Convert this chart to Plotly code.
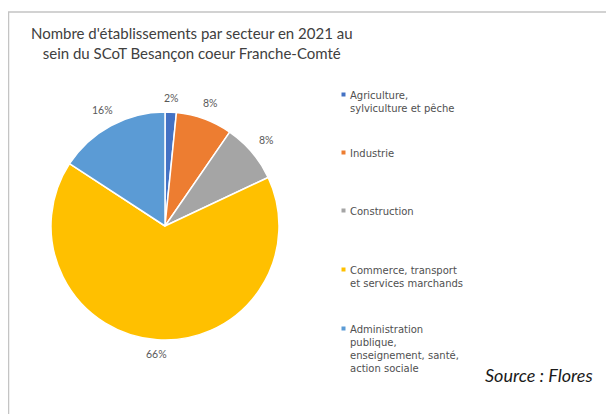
import math
import plotly.graph_objects as go

# ---- data ----
categories = [
    "Agriculture, sylviculture et pêche",
    "Industrie",
    "Construction",
    "Commerce, transport et services marchands",
    "Administration publique, enseignement, santé, action sociale",
]
legend_lines = [
    ["Agriculture,", "sylviculture et pêche"],
    ["Industrie"],
    ["Construction"],
    ["Commerce, transport", "et services marchands"],
    ["Administration", "publique,", "enseignement, santé,", "action sociale"],
]
values = [1.6, 8.0, 8.4, 66.2, 15.8]
colors = ["#4472C4", "#ED7D31", "#A5A5A5", "#FFC000", "#5B9BD5"]

title_text = "Nombre d'établissements par secteur en 2021 au<br>sein du SCoT Besançon coeur Franche-Comté"
source_text = "Source : Flores"

# ---- layout helpers (page has an 8px body margin) ----
W, H = 614, 414
OFF = 8
def px(x):
    return (x - OFF) / W
def py(y):
    return 1 - (y - OFF) / H

# pie geometry in page pixels
CX, CY, R = 165, 226, 114
legend_y = [94, 152, 210, 269, 328]

total = sum(values)

fig = go.Figure()
fig.add_trace(go.Pie(
    labels=categories,
    values=values,
    sort=False,
    direction="clockwise",
    rotation=0,
    marker=dict(colors=colors, line=dict(color="white", width=1.5)),
    textinfo="none",
    domain=dict(x=[px(CX - R), px(CX + R)], y=[py(CY + R), py(CY - R)]),
    showlegend=False,
    hoverinfo="label+percent",
))

annotations = [
    dict(text=title_text, x=px(192), y=py(22), xref="paper", yref="paper",
         xanchor="center", yanchor="top", showarrow=False, align="center",
         font=dict(family="Lato", size=15, color="#404040")),
    dict(text="<i>" + source_text + "</i>", x=px(483), y=py(375), xref="paper", yref="paper",
         xanchor="left", yanchor="middle", showarrow=False,
         font=dict(family="Lato", size=18, color="#1a1a1a")),
]

# outside percentage labels placed like Excel's (box edge a fixed gap from the pie)
cum = 0.0
for v in values:
    theta = 2 * math.pi * (cum + v / 2) / total
    cum += v
    s, c = math.sin(theta), math.cos(theta)
    d = R + 8 + abs(s) * 10 + abs(c) * 6
    annotations.append(dict(
        text=f"{v / total:.0%}", x=px(CX + d * s), y=py(CY - d * c),
        xref="paper", yref="paper", xanchor="center", yanchor="middle",
        showarrow=False, font=dict(family="Lato", size=10.5, color="#595959")))

shapes = [
    dict(type="rect", xref="paper", yref="paper", x0=px(8.5), x1=px(640), y0=py(440), y1=py(12),
         line=dict(color="#c4c4c4", width=1.5), fillcolor="rgba(0,0,0,0)", layer="below"),
]
for lines, col, ly in zip(legend_lines, colors, legend_y):
    annotations.append(dict(
        text="<br>".join(lines), x=px(348), y=py(ly - 6), xref="paper", yref="paper",
        xanchor="left", yanchor="top", showarrow=False, align="left",
        font=dict(family="DejaVu Sans", size=10, color="#505050")))
    shapes.append(dict(type="rect", xref="paper", yref="paper",
                       x0=px(341.5), x1=px(345.5), y0=py(ly + 2.5), y1=py(ly - 1.5),
                       line=dict(width=0), fillcolor=col))

fig.update_layout(
    width=W, height=H,
    margin=dict(l=0, r=0, t=0, b=0),
    paper_bgcolor="white",
    plot_bgcolor="white",
    annotations=annotations,
    shapes=shapes,
)

fig.write_html("out.html")
